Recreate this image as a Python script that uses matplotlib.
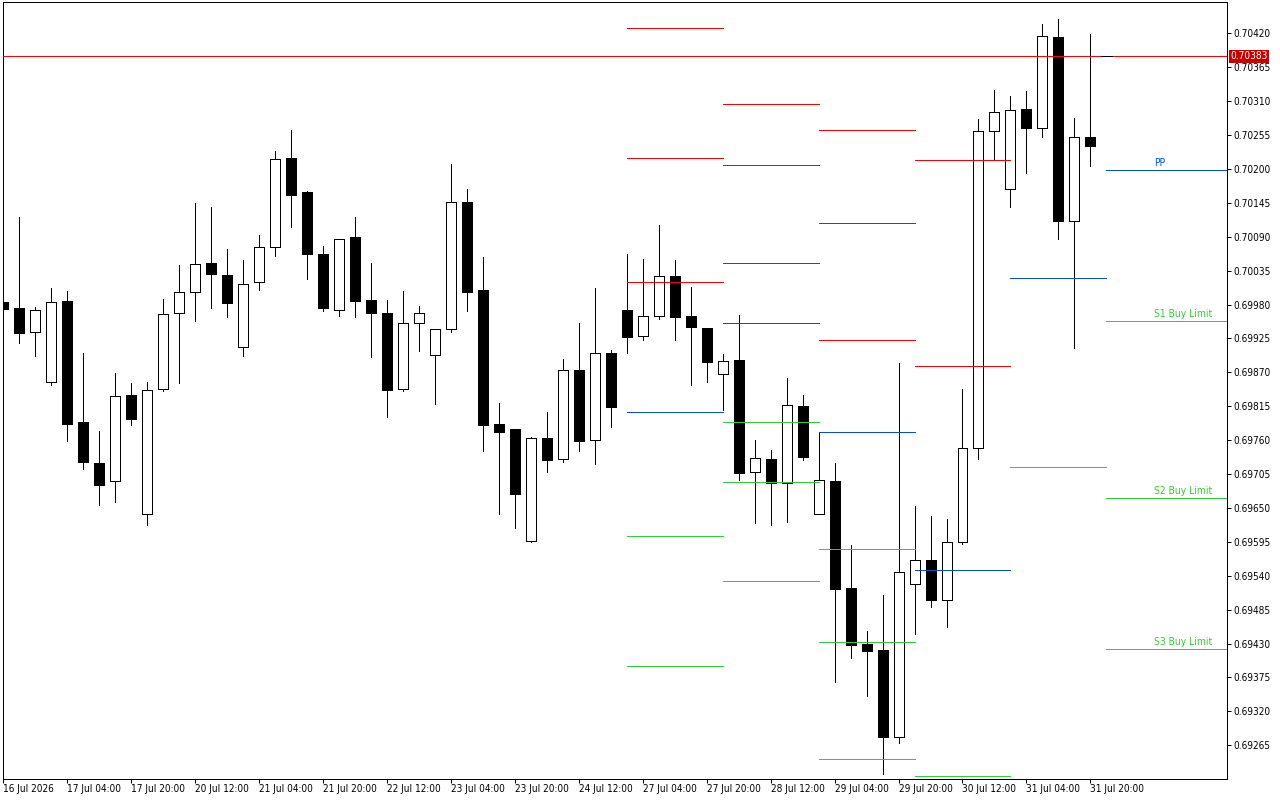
import matplotlib
matplotlib.use('Agg')
import matplotlib.pyplot as plt
from matplotlib.patches import Rectangle
from matplotlib import font_manager as fm
from matplotlib.transforms import blended_transform_factory

# ---------------- data (H4 candles) ----------------
opens = [0.69984, 0.69974, 0.69935, 0.69854, 0.69986, 0.69790, 0.69723, 0.69693, 0.69833, 0.69641,
         0.69843, 0.69966, 0.70000, 0.70047, 0.70028, 0.69911, 0.70016, 0.70074, 0.70218, 0.70163,
         0.70062, 0.69971, 0.70089, 0.69988, 0.69967, 0.69843, 0.69950, 0.69898, 0.69940, 0.70147,
         0.70003, 0.69787, 0.69778, 0.69596, 0.69763, 0.69729, 0.69873, 0.69760, 0.69901, 0.69971,
         0.69929, 0.69962, 0.70027, 0.69962, 0.69942, 0.69867, 0.69890, 0.69709, 0.69729, 0.69690,
         0.69815, 0.69641, 0.69693, 0.69520, 0.69429, 0.69420, 0.69279, 0.69526, 0.69566, 0.69500,
         0.69594, 0.69748, 0.70261, 0.70167, 0.70297, 0.70267, 0.70414, 0.70116, 0.70252]
highs = [0.69985, 0.70122, 0.69976, 0.70007, 0.70002, 0.69901, 0.69775, 0.69869, 0.69853, 0.69854,
         0.69989, 0.70044, 0.70145, 0.70138, 0.70070, 0.70052, 0.70093, 0.70229, 0.70263, 0.70164,
         0.70075, 0.70087, 0.70122, 0.70047, 0.69987, 0.70002, 0.69978, 0.69941, 0.70208, 0.70167,
         0.70057, 0.69820, 0.69778, 0.69765, 0.69806, 0.69892, 0.69950, 0.70007, 0.69906, 0.70062,
         0.70054, 0.70109, 0.70052, 0.70008, 0.69942, 0.69900, 0.69963, 0.69760, 0.69744, 0.69861,
         0.69833, 0.69773, 0.69723, 0.69590, 0.69450, 0.69509, 0.69885, 0.69653, 0.69637, 0.69632,
         0.69843, 0.70281, 0.70328, 0.70318, 0.70326, 0.70435, 0.70443, 0.70283, 0.70419]
lows = [0.69972, 0.69918, 0.69897, 0.69850, 0.69759, 0.69714, 0.69655, 0.69660, 0.69785, 0.69623,
        0.69840, 0.69853, 0.69954, 0.69975, 0.69960, 0.69897, 0.70004, 0.70059, 0.70105, 0.70022,
        0.69970, 0.69962, 0.69959, 0.69895, 0.69798, 0.69840, 0.69905, 0.69819, 0.69936, 0.69970,
        0.69743, 0.69641, 0.69618, 0.69594, 0.69709, 0.69724, 0.69743, 0.69722, 0.69782, 0.69902,
        0.69923, 0.69957, 0.69923, 0.69850, 0.69855, 0.69809, 0.69695, 0.69626, 0.69622, 0.69628,
        0.69728, 0.69641, 0.69368, 0.69406, 0.69345, 0.69219, 0.69268, 0.69446, 0.69490, 0.69457,
        0.69592, 0.69730, 0.70214, 0.70139, 0.70194, 0.70252, 0.70087, 0.69909, 0.70205]
closes = [0.69973, 0.69934, 0.69971, 0.69984, 0.69787, 0.69724, 0.69688, 0.69831, 0.69795, 0.69841,
          0.69964, 0.70000, 0.70045, 0.70030, 0.69983, 0.70014, 0.70073, 0.70216, 0.70158, 0.70062,
          0.69975, 0.70086, 0.69986, 0.69967, 0.69842, 0.69950, 0.69966, 0.69940, 0.70147, 0.70001,
          0.69785, 0.69774, 0.69673, 0.69763, 0.69727, 0.69873, 0.69759, 0.69901, 0.69814, 0.69928,
          0.69961, 0.70027, 0.69960, 0.69944, 0.69887, 0.69888, 0.69707, 0.69731, 0.69690, 0.69817,
          0.69733, 0.69695, 0.69519, 0.69427, 0.69418, 0.69279, 0.69546, 0.69566, 0.69500, 0.69594,
          0.69748, 0.70261, 0.70292, 0.70295, 0.70267, 0.70416, 0.70116, 0.70252, 0.70238]

# time axis labels (one every 4 bars)
time_labels = ['16 Jul 2026', '17 Jul 04:00', '17 Jul 20:00', '20 Jul 12:00', '21 Jul 04:00',
               '21 Jul 20:00', '22 Jul 12:00', '23 Jul 04:00', '23 Jul 20:00', '24 Jul 12:00',
               '27 Jul 04:00', '27 Jul 20:00', '28 Jul 12:00', '29 Jul 04:00', '29 Jul 20:00',
               '30 Jul 12:00', '31 Jul 04:00', '31 Jul 20:00']
label_step = 4

# daily pivot levels: (first bar, last bar, price, kind)
level_segments = [
    (39, 45, 0.70428, 'R'), (39, 45, 0.70217, 'R'), (39, 45, 0.70016, 'R'),
    (39, 45, 0.69805, 'P'), (39, 45, 0.69604, 'S'), (39, 45, 0.69393, 'S'),
    (45, 51, 0.70306, 'R'), (45, 51, 0.70207, 'R'), (45, 51, 0.70048, 'R'),
    (45, 51, 0.69950, 'P'), (45, 51, 0.69789, 'S'), (45, 51, 0.69692, 'S'), (45, 51, 0.69532, 'S'),
    (51, 57, 0.70263, 'R'), (51, 57, 0.70112, 'R'), (51, 57, 0.69922, 'R'),
    (51, 57, 0.69773, 'P'), (51, 57, 0.69583, 'S'), (51, 57, 0.69432, 'S'), (51, 57, 0.69242, 'S'),
    (57, 63, 0.70214, 'R'), (57, 63, 0.69880, 'R'), (57, 63, 0.69549, 'P'), (57, 63, 0.69215, 'S'),
    (63, 69, 0.70023, 'P'), (63, 69, 0.69716, 'S'),
]
current_names = ['PP', 'S1 Buy Limit', 'S2 Buy Limit', 'S3 Buy Limit']
current_prices = [0.70198, 0.69953, 0.69666, 0.69421]
current_kinds = ['P', 'S', 'S', 'S']
current_start = 69
price_line = 0.70383

y_tick_start, y_tick_step, y_tick_count = 0.69265, 0.00055, 22
y_min, y_max = 0.692103, 0.704708
x_min, x_max = 0.044, 76.54

# ---------------- style ----------------
RED = '#ff0000'
BLUE = '#0050dc'
GREEN = '#32cd32'
kind_color = {'R': RED, 'P': BLUE, 'S': GREEN}
PX = 0.72  # one pixel in points at 100 dpi

# pick a narrow font similar to the terminal font
font_kw = {'family': 'DejaVu Sans'}
names = {f.name for f in fm.fontManager.ttflist}
if 'Liberation Sans Narrow' in names:
    font_kw = {'family': 'Liberation Sans Narrow'}
else:
    cond = [f for f in fm.fontManager.ttflist
            if 'Sans' in f.name and str(f.stretch) in ('condensed', 'semi-condensed', '500', '300')
            and f.weight in (400, 'normal') and f.style == 'normal']
    if cond:
        font_kw = {'fname': cond[0].fname}
    elif 'Roboto Condensed' in names:
        font_kw = {'family': 'Roboto Condensed'}
tick_font = fm.FontProperties(size=7.2, **font_kw)

fig = plt.figure(figsize=(12.8, 8.0), dpi=100)
fig.patch.set_facecolor('white')
ax = fig.add_axes([3 / 1280, 21 / 800, 1224 / 1280, 777 / 800])
ax.set_facecolor('white')

# ---------------- candles ----------------
body_w = 0.625
for i, (o, h, l, c) in enumerate(zip(opens, highs, lows, closes)):
    top, bot = max(o, c), min(o, c)
    ax.plot([i, i], [l, h], color='black', lw=PX, zorder=2, antialiased=False,
            solid_capstyle='butt')
    fill = 'white' if c >= o else 'black'
    ax.add_patch(Rectangle((i - body_w / 2, bot), body_w, max(top - bot, 0.000005),
                           facecolor=fill, edgecolor='black', lw=PX, zorder=3,
                           antialiased=False))

# ---------------- pivot levels ----------------
for a, b, p, k in level_segments:
    ax.plot([a, b], [p, p], color=kind_color[k], lw=PX, zorder=4, antialiased=False,
            solid_capstyle='butt')

for name, p, k in zip(current_names, current_prices, current_kinds):
    ax.plot([current_start, x_max + 1], [p, p], color=kind_color[k], lw=PX, zorder=4,
            antialiased=False, solid_capstyle='butt')
    ax.annotate(name, xy=(72, p), xytext=(0, 1.6), textcoords='offset points',
                ha='left', va='bottom', color=BLUE if k == 'P' else GREEN,
                fontproperties=fm.FontProperties(size=7.4, **font_kw), zorder=5)

# current price line
ax.plot([x_min - 1, x_max + 1], [price_line, price_line], color=RED, lw=PX, zorder=4,
        antialiased=False, solid_capstyle='butt')
ax.plot([68.66, 69.36], [price_line, price_line], color='black', lw=PX, zorder=5,
        antialiased=False, solid_capstyle='butt')
trans = blended_transform_factory(ax.transAxes, ax.transData)
ax.text(1.0025, price_line, f'{price_line:.5f}', transform=trans, ha='left', va='center',
        color='white', fontproperties=tick_font, zorder=6, clip_on=False,
        bbox=dict(boxstyle='square,pad=0.15', facecolor='#c80000', edgecolor='none'))

# ---------------- axes ----------------
ax.set_xlim(x_min, x_max)
ax.set_ylim(y_min, y_max)

yt = [round(y_tick_start + y_tick_step * k, 5) for k in range(y_tick_count)]
ax.yaxis.tick_right()
ax.set_yticks(yt)
ax.set_yticklabels([f'{v:.5f}' for v in yt], fontproperties=tick_font)
ax.tick_params(axis='y', direction='out', length=4 * PX, width=PX, pad=1.5, colors='black')

xt = [k * label_step for k in range(len(time_labels))]
ax.set_xticks(xt)
ax.set_xticklabels(time_labels, fontproperties=tick_font, ha='left')
ax.tick_params(axis='x', direction='out', length=4 * PX, width=PX, pad=1.0, colors='black')

for s in ax.spines.values():
    s.set_linewidth(PX)
    s.set_color('black')

fig.savefig('out.png', dpi=100, facecolor='white')
